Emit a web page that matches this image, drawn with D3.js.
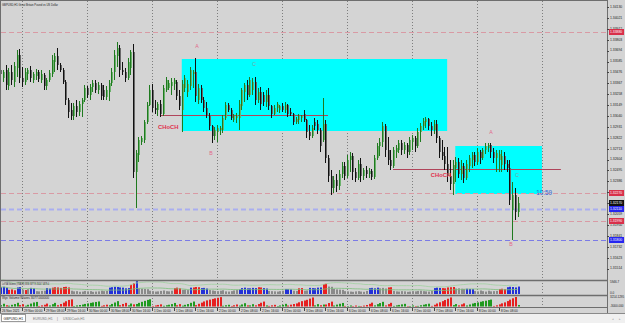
<!DOCTYPE html>
<html>
<head>
<meta charset="utf-8">
<script src="https://cdn.jsdelivr.net/npm/d3@7"></script>
<style>
  html, body { margin: 0; padding: 0; background: #f0f0f0; overflow: hidden; }
  svg { display: block; font-family: "Liberation Sans", Arial, sans-serif; }
</style>
</head>
<body>
<svg id="chart" width="625" height="323"></svg>
<script>
// GBPUSD H1, 26 Nov 2021 - 8 Dec 2021 (one bar per hour, weekend skipped)
const opens = [
  1.3350,1.3342,1.3350,1.3334,1.3348,1.3338,1.3352,1.3365, 1.3342,1.3338,1.3346,1.3350,1.3340,1.3344,1.3348,1.3340,
  1.3345,1.3334,1.3340,1.3346,1.3358,1.3364,1.3355,1.3350, 1.3338,1.3320,1.3310,1.3304,1.3314,1.3308,1.3316,1.3320,
  1.3332,1.3325,1.3333,1.3337,1.3330,1.3335,1.3330,1.3323, 1.3328,1.3337,1.3348,1.3364,1.3372,1.3350,1.3348,1.3342,
  1.3352,1.3368,1.3248,1.3265,1.3278,1.3280,1.3298,1.3315, 1.3330,1.3312,1.3310,1.3316,1.3306,1.3330,1.3332,1.3334,
  1.3336,1.3338,1.3324,1.3310,1.3332,1.3328,1.3334,1.3346, 1.3348,1.3320,1.3332,1.3320,1.3312,1.3305,1.3294,1.3284,
  1.3288,1.3290,1.3290,1.3302,1.3315,1.3310,1.3300,1.3302, 1.3302,1.3314,1.3328,1.3335,1.3325,1.3330,1.3338,1.3320,
  1.3328,1.3325,1.3318,1.3325,1.3314,1.3306,1.3312,1.3310, 1.3314,1.3310,1.3315,1.3308,1.3306,1.3298,1.3300,1.3302,
  1.3306,1.3300,1.3288,1.3284,1.3298,1.3296,1.3290,1.3280, 1.3296,1.3262,1.3244,1.3232,1.3240,1.3234,1.3246,1.3254,
  1.3244,1.3260,1.3264,1.3248,1.3242,1.3256,1.3244,1.3250, 1.3246,1.3249,1.3243,1.3262,1.3274,1.3278,1.3294,1.3270,
  1.3260,1.3254,1.3268,1.3270,1.3277,1.3270,1.3275,1.3268, 1.3278,1.3282,1.3274,1.3288,1.3294,1.3298,1.3301,1.3294,
  1.3290,1.3296,1.3282,1.3268,1.3264,1.3256,1.3244,1.3236, 1.3252,1.3258,1.3246,1.3254,1.3242,1.3254,1.3260,1.3265,
  1.3258,1.3268,1.3262,1.3270,1.3272,1.3275,1.3268,1.3262, 1.3260,1.3255,1.3264,1.3256,1.3252,1.3210,1.3225,1.3208
];
const highs = [
  1.3352,1.3350,1.3355,1.3352,1.3355,1.3358,1.3370,1.3371, 1.3353,1.3352,1.3352,1.3354,1.3348,1.3351,1.3350,1.3350,
  1.3347,1.3342,1.3350,1.3365,1.3367,1.3372,1.3357,1.3352, 1.3340,1.3322,1.3317,1.3317,1.3320,1.3319,1.3322,1.3335,
  1.3334,1.3336,1.3340,1.3340,1.3338,1.3337,1.3335,1.3334, 1.3340,1.3352,1.3370,1.3378,1.3375,1.3358,1.3352,1.3362,
  1.3370,1.3376,1.3270,1.3283,1.3284,1.3300,1.3318,1.3335, 1.3336,1.3320,1.3318,1.3320,1.3335,1.3343,1.3340,1.3342,
  1.3342,1.3340,1.3330,1.3340,1.3345,1.3340,1.3353,1.3350, 1.3362,1.3336,1.3335,1.3323,1.3318,1.3307,1.3295,1.3293,
  1.3295,1.3294,1.3305,1.3318,1.3317,1.3312,1.3306,1.3307, 1.3320,1.3332,1.3337,1.3340,1.3343,1.3342,1.3343,1.3332,
  1.3333,1.3328,1.3330,1.3332,1.3315,1.3315,1.3318,1.3315, 1.3317,1.3318,1.3316,1.3312,1.3307,1.3303,1.3306,1.3305,
  1.3310,1.3301,1.3295,1.3295,1.3302,1.3300,1.3292,1.3322, 1.3300,1.3265,1.3250,1.3244,1.3246,1.3250,1.3258,1.3258,
  1.3265,1.3268,1.3267,1.3252,1.3260,1.3262,1.3252,1.3254, 1.3252,1.3251,1.3265,1.3277,1.3282,1.3298,1.3296,1.3283,
  1.3270,1.3273,1.3275,1.3280,1.3280,1.3278,1.3277,1.3283, 1.3285,1.3284,1.3292,1.3297,1.3302,1.3303,1.3302,1.3298,
  1.3300,1.3300,1.3284,1.3280,1.3273,1.3273,1.3260,1.3260, 1.3263,1.3262,1.3260,1.3257,1.3260,1.3265,1.3268,1.3268,
  1.3272,1.3270,1.3272,1.3277,1.3277,1.3277,1.3272,1.3270, 1.3270,1.3270,1.3268,1.3260,1.3260,1.3238,1.3232,1.3223
];
const lows = [
  1.3344,1.3338,1.3330,1.3330,1.3335,1.3333,1.3343,1.3337, 1.3333,1.3335,1.3340,1.3338,1.3337,1.3340,1.3338,1.3337,
  1.3330,1.3330,1.3338,1.3343,1.3348,1.3350,1.3348,1.3336, 1.3315,1.3302,1.3300,1.3300,1.3303,1.3304,1.3303,1.3318,
  1.3322,1.3320,1.3328,1.3327,1.3326,1.3320,1.3320,1.3320, 1.3319,1.3334,1.3340,1.3353,1.3343,1.3345,1.3338,1.3340,
  1.3345,1.3242,1.3212,1.3258,1.3275,1.3277,1.3296,1.3314, 1.3308,1.3306,1.3304,1.3303,1.3304,1.3328,1.3330,1.3325,
  1.3330,1.3320,1.3310,1.3288,1.3328,1.3323,1.3330,1.3332, 1.3318,1.3316,1.3317,1.3308,1.3302,1.3290,1.3277,1.3280,
  1.3278,1.3285,1.3287,1.3300,1.3308,1.3300,1.3298,1.3297, 1.3290,1.3310,1.3318,1.3320,1.3323,1.3325,1.3315,1.3317,
  1.3310,1.3314,1.3313,1.3310,1.3302,1.3305,1.3308,1.3307, 1.3308,1.3307,1.3303,1.3304,1.3295,1.3296,1.3296,1.3298,
  1.3298,1.3282,1.3280,1.3282,1.3290,1.3286,1.3268,1.3278, 1.3257,1.3238,1.3225,1.3227,1.3228,1.3230,1.3242,1.3240,
  1.3242,1.3248,1.3240,1.3238,1.3240,1.3238,1.3240,1.3242, 1.3242,1.3240,1.3241,1.3260,1.3264,1.3273,1.3263,1.3255,
  1.3250,1.3252,1.3262,1.3267,1.3265,1.3266,1.3262,1.3265, 1.3270,1.3268,1.3272,1.3278,1.3290,1.3292,1.3290,1.3284,
  1.3286,1.3277,1.3262,1.3260,1.3250,1.3238,1.3230,1.3225, 1.3238,1.3242,1.3240,1.3237,1.3240,1.3248,1.3252,1.3254,
  1.3255,1.3256,1.3260,1.3266,1.3268,1.3262,1.3257,1.3248, 1.3248,1.3248,1.3250,1.3248,1.3215,1.3180,1.3200,1.3203
];
const closes = [
  1.3346,1.3348,1.3335,1.3348,1.3340,1.3354,1.3365,1.3342, 1.3338,1.3348,1.3350,1.3342,1.3346,1.3348,1.3341,1.3346,
  1.3334,1.3340,1.3347,1.3360,1.3364,1.3355,1.3350,1.3338, 1.3320,1.3308,1.3304,1.3314,1.3308,1.3316,1.3320,1.3332,
  1.3325,1.3333,1.3337,1.3330,1.3335,1.3324,1.3323,1.3330, 1.3337,1.3348,1.3365,1.3372,1.3350,1.3348,1.3342,1.3358,
  1.3368,1.3248,1.3267,1.3280,1.3282,1.3298,1.3315,1.3330, 1.3312,1.3310,1.3316,1.3306,1.3332,1.3340,1.3337,1.3338,
  1.3340,1.3324,1.3314,1.3336,1.3342,1.3336,1.3350,1.3348, 1.3324,1.3332,1.3320,1.3312,1.3305,1.3294,1.3284,1.3290,
  1.3292,1.3292,1.3302,1.3315,1.3310,1.3302,1.3304,1.3305, 1.3316,1.3330,1.3335,1.3325,1.3340,1.3338,1.3320,1.3328,
  1.3316,1.3318,1.3325,1.3314,1.3306,1.3312,1.3316,1.3314, 1.3310,1.3315,1.3306,1.3306,1.3298,1.3301,1.3304,1.3304,
  1.3300,1.3288,1.3284,1.3292,1.3294,1.3290,1.3274,1.3296, 1.3262,1.3244,1.3232,1.3240,1.3234,1.3246,1.3254,1.3244,
  1.3260,1.3264,1.3248,1.3242,1.3256,1.3244,1.3250,1.3246, 1.3249,1.3243,1.3262,1.3274,1.3278,1.3294,1.3270,1.3260,
  1.3254,1.3270,1.3272,1.3277,1.3270,1.3275,1.3268,1.3280, 1.3282,1.3274,1.3288,1.3294,1.3299,1.3301,1.3294,1.3290,
  1.3296,1.3282,1.3268,1.3264,1.3256,1.3244,1.3236,1.3255, 1.3258,1.3246,1.3254,1.3242,1.3256,1.3262,1.3265,1.3258,
  1.3268,1.3262,1.3270,1.3274,1.3275,1.3268,1.3262,1.3267, 1.3266,1.3264,1.3256,1.3252,1.3220,1.3225,1.3208,1.3217
];
const volumes = [
  3100,3300,2900,1900,2100,1700,3000,3200, 2000,1800,2200,2800,2600,1300,1200,1400,
  1500,2700,2500,2900,3100,3000,2800,3200, 3300,3000,1500,1200,1300,1000,1100,1400,
  1200,1300,1000,1100,1200,1500,1300,1400, 2900,3100,3300,3200,3000,2900,2600,2700,
  4200,5000,5900,2600,2400,2300,2200,1500, 1300,1100,1200,1400,1600,1300,1200,1500,
  2700,2900,2600,1900,2000,1800,2900,3000, 3200,3100,2700,2800,2500,1800,1600,1400,
  1300,1500,1700,1200,1100,1300,1600,1800, 2100,2700,2900,2600,2600,2800,2700,3100,
  3000,2700,2500,1400,1300,1200,1100,1300, 1500,2300,2200,2100,1500,1400,2600,2700,
  1500,1600,2800,2700,2600,2900,3000,4500, 4700,3400,3300,2300,2100,2000,1900,1300,
  1200,1100,1000,1200,1300,1100,1000,1400, 2700,2800,2600,2900,2600,2800,2500,3000,
  3100,1400,1200,1100,1300,1200,1000,1100, 1300,1200,1400,1500,1300,1200,1100,1400,
  2700,2900,2800,2700,2600,3000,3100,3200, 2500,2600,2400,2300,2400,2300,2200,1400,
  1200,1600,1300,1100,1500,1200,1300,1400, 2300,2400,2200,3100,3300,3200,3000,3400
];
// VSA colour class of each volume bar: b = blue, r = red, g = grey
const volumeKinds = ["bbb","rrr","bb","grg","bb","gggg","bb","rrrrrrr","gggggggggggggg","bbbbbb","bb","rr","b",
  "gggg","ggggggggg","rrr","ggg","b","rrr","bbb","ggggggggg","ggb","bbb","bbb","rr","bb","gggggg","bbb","gg","rr","gg",
  "bbbbb","rr","gggggg","ggggggggg","bbbb","ggg","rr","ggggggggggggggg","bbb","rrrrr","gggg","bbb","ggggggggg","rrr","bbbbb"].join("");

const timeLabelBars = [0,8,16,24,32,40,48,56,64,72,80,88,96,104,112,120,128,136,144,152,160,168,176,184];
const timeLabels = ["26 Nov 2021","29 Nov 00:00","29 Nov 08:00","29 Nov 16:00","30 Nov 00:00","30 Nov 08:00","30 Nov 16:00",
  "1 Dec 00:00","1 Dec 08:00","1 Dec 16:00","2 Dec 00:00","2 Dec 08:00","2 Dec 16:00","3 Dec 00:00","3 Dec 08:00","3 Dec 16:00",
  "6 Dec 00:00","6 Dec 08:00","6 Dec 16:00","7 Dec 00:00","7 Dec 08:00","7 Dec 16:00","8 Dec 00:00","8 Dec 08:00"];
const dayBars = [8,32,56,80,104,128,152,176,200];
const priceTicks = [1.34130,1.34021,1.33912,1.33803,1.33694,1.33585,1.33476,1.33367,1.33258,1.33149,1.33040,1.32931,
  1.32822,1.32713,1.32604,1.32495,1.32386,1.32277,1.32168,1.32059,1.31950,1.31841,1.31732,1.31623,1.31514];

// horizontal levels
const levelPrices = [1.3388, 1.3227, 1.3211, 1.3199, 1.3180];
const levelKinds = ["red", "red", "lav", "red", "blue"];

// supply / demand zones
const zoneStart = [67, 168];
const zoneEnd = [165, 200];
const zoneTop = [1.3361, 1.3274];
const zoneBottom = [1.3289, 1.3226];

// change of character lines
const chochStart = [59, 145];
const chochEnd = [121, 207];
const chochPrice = [1.3305, 1.3251];
const chochLabelBar = [62, 162.7];
const chochLabelPrice = [1.3293, 1.3245];

// swing labels
const swingText = ["A", "B", "C", "A", "C", "B"];
const swingBar = [72.6, 77.8, 93.7, 181.2, 190.8, 188.6];
const swingPrice = [1.3373, 1.3266, 1.3355, 1.3287, 1.3244, 1.3175];

const svg = d3.select("#chart");
const plotRight = 607;

const x = d3.scaleLinear().domain([0, 200]).range([0.33, 541.93]);
const y = d3.scaleLinear().domain([1.3140, 1.3420]).range([280, 0]);
const px = i => Math.round(x(i));

// backgrounds
svg.append("rect").attr("width", 625).attr("height", 314).attr("fill", "#d4d4d4");
svg.append("rect").attr("y", 314).attr("width", 625).attr("height", 9).attr("fill", "#f0f0f0");

// day separators
svg.append("g").selectAll("line").data(dayBars).join("line")
  .attr("x1", d => px(d) + 0.5).attr("x2", d => px(d) + 0.5)
  .attr("y1", 1).attr("y2", 308)
  .attr("stroke", "#7e7e7e").attr("stroke-dasharray", "1,2");

// zones
svg.append("g").selectAll("rect").data(zoneStart).join("rect")
  .attr("x", (d, i) => x(d))
  .attr("y", (d, i) => y(zoneTop[i]))
  .attr("width", (d, i) => x(zoneEnd[i]) - x(d))
  .attr("height", (d, i) => y(zoneBottom[i]) - y(zoneTop[i]))
  .attr("fill", "#00ffff");

// dashed levels
const levelStroke = { red: "#d99aa4", lav: "#a9aef0", blue: "#7b7be6" };
svg.append("g").selectAll("line").data(levelPrices).join("line")
  .attr("x1", 1).attr("x2", plotRight)
  .attr("y1", d => Math.round(y(d)) + 0.5).attr("y2", d => Math.round(y(d)) + 0.5)
  .attr("stroke", (d, i) => levelStroke[levelKinds[i]])
  .attr("stroke-width", (d, i) => levelKinds[i] === "lav" ? 2 : 1)
  .attr("stroke-dasharray", "5,3");

// CHoCH lines
svg.append("g").selectAll("line").data(chochPrice).join("line")
  .attr("x1", (d, i) => x(chochStart[i])).attr("x2", (d, i) => x(chochEnd[i]))
  .attr("y1", d => Math.round(y(d)) + 0.5).attr("y2", d => Math.round(y(d)) + 0.5)
  .attr("stroke", "#b0445a");

// candles
const candles = svg.append("g").selectAll("g").data(closes).join("g");
candles.append("rect")
  .attr("x", (d, i) => px(i))
  .attr("y", (d, i) => y(Math.max(opens[i], d)))
  .attr("width", 2)
  .attr("height", (d, i) => Math.max(1, y(Math.min(opens[i], d)) - y(Math.max(opens[i], d))))
  .attr("fill", (d, i) => d >= opens[i] ? "#6cb26c" : "#6a6a6a");
candles.append("line")
  .attr("x1", (d, i) => px(i) + 0.5).attr("x2", (d, i) => px(i) + 0.5)
  .attr("y1", (d, i) => y(highs[i])).attr("y2", (d, i) => y(lows[i]))
  .attr("stroke", (d, i) => d >= opens[i] ? "#1f7a1f" : "#111");

// CHoCH labels
svg.append("g").selectAll("text").data(chochLabelBar).join("text")
  .attr("x", d => x(d)).attr("y", (d, i) => y(chochLabelPrice[i]))
  .attr("text-anchor", "middle").attr("dominant-baseline", "middle")
  .attr("font-size", 5.8).attr("font-weight", "bold").attr("fill", "#e0304c")
  .text("CHoCH");

// swing letters
svg.append("g").selectAll("text").data(swingText).join("text")
  .attr("x", (d, i) => x(swingBar[i])).attr("y", (d, i) => y(swingPrice[i]))
  .attr("text-anchor", "middle").attr("dominant-baseline", "middle")
  .attr("font-size", 5.2)
  .attr("fill", d => d === "C" ? "#7f9d9d" : "#e2688a")
  .text(d => d);

// candle timer
svg.append("text").attr("x", x(200.8)).attr("y", y(1.3227))
  .attr("text-anchor", "middle").attr("dominant-baseline", "middle")
  .attr("font-size", 6.3).attr("fill", "#2f63d8").text("10:59");

// title
svg.append("text").attr("x", 2).attr("y", 5.5).attr("font-size", 3.2).attr("fill", "#222")
  .attr("textLength", 56).attr("lengthAdjust", "spacingAndGlyphs")
  .text("GBPUSD,H1  Great Britain Pound vs US Dollar");

// ---- indicator 1: VSA volumes
const yVol = d3.scaleLinear().domain([0, 5946.7]).range([294, 281]);
const kindFill = { b: "#2230d8", r: "#ea2020", g: "#8a8a8a" };
svg.append("g").selectAll("rect").data(volumes).join("rect")
  .attr("x", (d, i) => px(i))
  .attr("y", d => yVol(d))
  .attr("width", 2)
  .attr("height", d => 294 - yVol(d))
  .attr("fill", (d, i) => kindFill[volumeKinds[i]]);
const volAvg = volumes.map((d, i) => d3.mean(volumes.slice(Math.max(0, i - 19), i + 1)));
svg.append("path").datum(volAvg)
  .attr("d", d3.line().x((d, i) => x(i)).y(d => yVol(d * 2)))
  .attr("fill", "none").attr("stroke", "#9fd19f").attr("stroke-width", 0.8);
svg.append("path").datum(volAvg)
  .attr("d", d3.line().x((d, i) => x(i)).y(d => yVol(d)))
  .attr("fill", "none").attr("stroke", "#7cbf7c").attr("stroke-width", 0.8);

// ---- indicator 2: volume waves (cumulative volume of each swing)
const waveThreshold = 0.0008;
let dir = 1, ext = closes[0], cum = 0;
const waves = closes.map((c, i) => {
  if (dir > 0) {
    if (c >= ext) ext = c;
    else if (ext - c >= waveThreshold) { dir = -1; ext = c; cum = 0; }
  } else {
    if (c <= ext) ext = c;
    else if (c - ext >= waveThreshold) { dir = 1; ext = c; cum = 0; }
  }
  cum += volumes[i];
  return { v: cum, dir: dir };
});
const yWave = d3.scaleLinear().domain([0, d3.max(waves, d => d.v)]).range([306.5, 297]);
svg.append("g").selectAll("rect").data(waves).join("rect")
  .attr("x", (d, i) => px(i))
  .attr("y", d => yWave(d.v))
  .attr("width", 2)
  .attr("height", d => 306.5 - yWave(d.v))
  .attr("fill", d => d.dir > 0 ? "#1e9a1e" : "#e62020");

// panel texts
svg.append("text").attr("x", 2).attr("y", 284.5).attr("font-size", 2.8).attr("fill", "#222")
  .attr("textLength", 47).attr("lengthAdjust", "spacingAndGlyphs")
  .text("LvVSA Volumes (VSA,88) 3330 3077.8 2324.7 4879.4");
svg.append("text").attr("x", 2).attr("y", 299.3).attr("font-size", 2.8).attr("fill", "#222")
  .attr("textLength", 47).attr("lengthAdjust", "spacingAndGlyphs")
  .text("Wyc Volume Waves 3077.000000");

// frame and separators
const frame = svg.append("g").attr("stroke", "#6e6e6e");
frame.append("line").attr("x1", 0.5).attr("x2", 0.5).attr("y1", 0).attr("y2", 314);
frame.append("line").attr("x1", 0).attr("x2", plotRight).attr("y1", 0.5).attr("y2", 0.5);
frame.append("line").attr("x1", plotRight + 0.5).attr("x2", plotRight + 0.5).attr("y1", 0).attr("y2", 314);
frame.append("line").attr("x1", 0).attr("x2", plotRight).attr("y1", 280.5).attr("y2", 280.5).attr("stroke-width", 1.6);
frame.append("line").attr("x1", 0).attr("x2", plotRight).attr("y1", 295.5).attr("y2", 295.5).attr("stroke-width", 1.6);
frame.append("line").attr("x1", 0).attr("x2", plotRight).attr("y1", 307.5).attr("y2", 307.5);
frame.append("line").attr("x1", 0).attr("x2", 625).attr("y1", 313.5).attr("y2", 313.5).attr("stroke", "#8a8a8a");

// price axis
const yAxis = svg.append("g");
yAxis.selectAll("line").data(priceTicks).join("line")
  .attr("x1", plotRight).attr("x2", plotRight + 2)
  .attr("y1", d => Math.round(y(d)) + 0.5).attr("y2", d => Math.round(y(d)) + 0.5)
  .attr("stroke", "#444");
yAxis.selectAll("text").data(priceTicks).join("text")
  .attr("x", plotRight + 3).attr("y", d => y(d))
  .attr("dominant-baseline", "middle").attr("font-size", 3.4).attr("fill", "#222")
  .text(d => d.toFixed(5));

// coloured price tags
const tagFill = { red: "#d8304a", lav: "#2626f0", blue: "#2626f0", bid: "#111" };
const tags = levelPrices.map((p, i) => ({ p: p, k: levelKinds[i] }))
  .concat([{ p: closes[closes.length - 1], k: "bid" }]);
const tagG = svg.append("g").selectAll("g").data(tags).join("g");
tagG.append("rect")
  .attr("x", plotRight + 2).attr("y", d => y(d.p) - 3)
  .attr("width", 15).attr("height", 6)
  .attr("fill", d => tagFill[d.k]);
tagG.append("text")
  .attr("x", plotRight + 3).attr("y", d => y(d.p))
  .attr("dominant-baseline", "middle").attr("font-size", 3.4).attr("fill", "#fff")
  .text(d => d.p.toFixed(5));

// indicator scale labels
const indLabels = [["5946.7", 282.5], ["0.0", 292.8], ["3214.1295", 297.2], ["-3000.000", 306]];
svg.append("g").selectAll("text").data(indLabels).join("text")
  .attr("x", plotRight + 3).attr("y", d => d[1])
  .attr("dominant-baseline", "middle").attr("font-size", 3).attr("fill", "#222")
  .text(d => d[0]);

// time axis
const tAxis = svg.append("g").selectAll("g").data(timeLabelBars).join("g");
tAxis.append("line")
  .attr("x1", d => px(d) + 0.5).attr("x2", d => px(d) + 0.5)
  .attr("y1", 308).attr("y2", 311).attr("stroke", "#444");
tAxis.append("text")
  .attr("x", d => px(d) + 2).attr("y", 311.6)
  .attr("font-size", 3.1).attr("fill", "#222")
  .text((d, i) => timeLabels[i]);

// tabs
const tabs = svg.append("g");
tabs.append("rect").attr("x", 1.5).attr("y", 314.5).attr("width", 24).attr("height", 7)
  .attr("fill", "#fff").attr("stroke", "#9a9a9a");
const tabNames = ["GBPUSD,H1", "EURUSD,H1", "|", "US30Cash,H1"];
const tabX = [3.5, 33, 57, 63];
tabs.selectAll("text").data(tabNames).join("text")
  .attr("x", (d, i) => tabX[i]).attr("y", 319.5)
  .attr("font-size", 3.4).attr("fill", (d, i) => i === 0 ? "#222" : "#777")
  .text(d => d);
tabs.append("text").attr("x", 612).attr("y", 319.5).attr("font-size", 3.4).attr("fill", "#aaa").text("◂");
tabs.append("text").attr("x", 619).attr("y", 319.5).attr("font-size", 3.4).attr("fill", "#aaa").text("▸");
</script>
</body>
</html>
